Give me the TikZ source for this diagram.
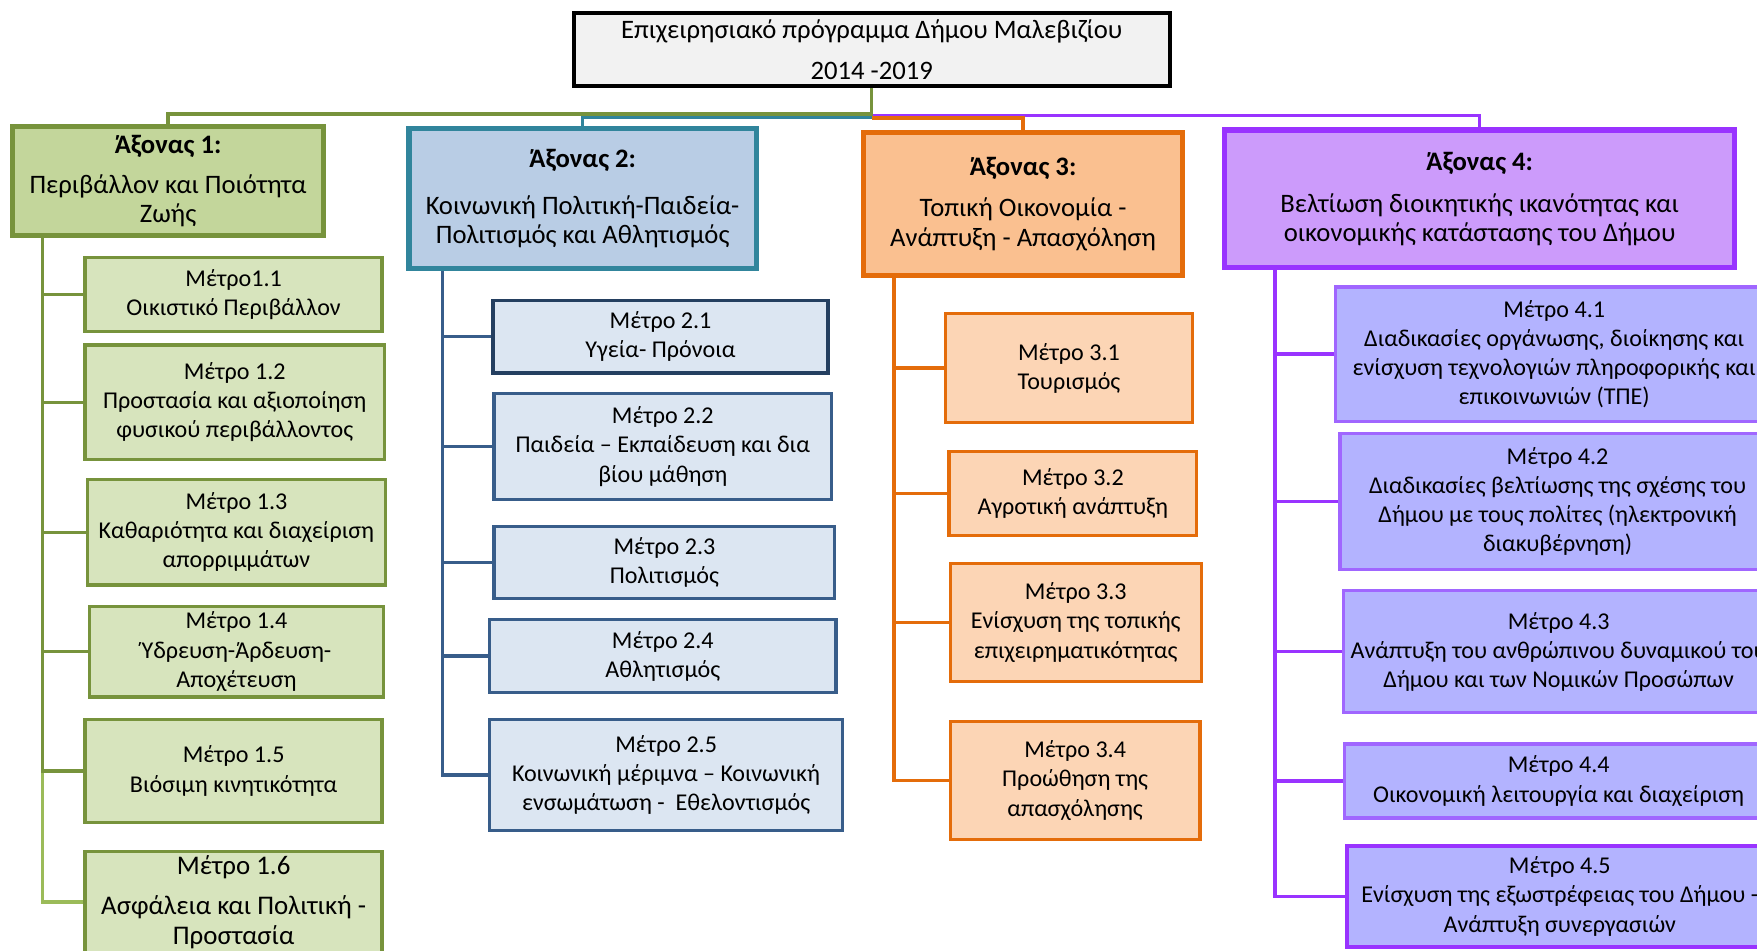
\documentclass[tikz,border=0pt]{standalone}
\usepackage{fontspec}
\setmainfont{Carlito}
\usetikzlibrary{calc}
\definecolor{gA}{HTML}{77933C}
\definecolor{gL}{HTML}{9BBB59}
\definecolor{gF}{HTML}{C3D69B}
\definecolor{gS}{HTML}{D7E4BD}
\definecolor{tA}{HTML}{31859C}
\definecolor{bF}{HTML}{B9CDE5}
\definecolor{bL}{HTML}{385D8A}
\definecolor{bD}{HTML}{243F60}
\definecolor{bS}{HTML}{DCE6F2}
\definecolor{oA}{HTML}{E46C0A}
\definecolor{oF}{HTML}{FAC090}
\definecolor{oS}{HTML}{FCD5B5}
\definecolor{pA}{HTML}{9933FF}
\definecolor{pF}{HTML}{CC9BFB}
\definecolor{pS}{HTML}{B3B3FF}
\definecolor{pB}{HTML}{A066FF}
\definecolor{tF}{HTML}{F2F2F2}
\tikzset{
  bx/.style={draw, line width=3pt, inner sep=0pt, align=center, font=\fontsize{21.5}{26}\selectfont},
  hd/.style={draw, line width=4.5pt, inner sep=0pt, align=center, font=\fontsize{23.8}{26}\selectfont},
  ttl/.style={draw=black, fill=tF, line width=3.5pt, inner sep=0pt, align=center, font=\fontsize{23.8}{26}\selectfont},
  s1/.style={bx, draw=gA, fill=gS},
  s2/.style={bx, draw=bL, fill=bS},
  s3/.style={bx, draw=oA, fill=oS},
  s4/.style={bx, draw=pB, fill=pS},
  l1/.style={draw=gA, line width=3pt},
  l1b/.style={draw=gL, line width=3pt},
  l2/.style={draw=bL, line width=3pt},
  l2t/.style={draw=tA, line width=3pt},
  l3/.style={draw=oA, line width=3pt},
  l4/.style={draw=pA, line width=3pt},
}
\begin{document}
\begin{tikzpicture}[x=1pt,y=-1pt]
\useasboundingbox (0,0) rectangle (1568,848);
\clip (0,0) rectangle (1568,848);
\fill[white] (0,0) rectangle (1568,848);

% title
\node[ttl, minimum width=532pt, minimum height=65pt] (T) at (778,44.5)
  {Επιχειρησιακό πρόγραμμα Δήμου Μαλεβιζίου\\[10pt]2014 -2019};

% axes
\node[hd, draw=gA, fill=gF, minimum width=278pt, minimum height=97pt] (A1) at (150,161.5)
  {{\bfseries Άξονας 1:}\\[10pt]Περιβάλλον και Ποιότητα\\Ζωής};
\node[hd, draw=tA, fill=bF, minimum width=310pt, minimum height=125pt] (A2) at (520,177.5)
  {{\bfseries Άξονας 2:}\\[16pt]Κοινωνική Πολιτική-Παιδεία-\\Πολιτισμός και Αθλητισμός};
\node[hd, draw=oA, fill=oF, minimum width=284pt, minimum height=128pt] (A3) at (913,182)
  {{\bfseries Άξονας 3:}\\[11pt]Τοπική Οικονομία -\\Ανάπτυξη - Απασχόληση};
\node[hd, draw=pA, fill=pF, minimum width=455pt, minimum height=123pt] (A4) at (1320.5,177.5)
  {{\bfseries Άξονας 4:}\\[11pt]Βελτίωση διοικητικής ικανότητας και\\οικονομικής κατάστασης του Δήμου};

% top connectors
\draw[l4] ([yshift=-24.5pt]T.south) -| (A4.north);
\draw[l3] ([yshift=-26.5pt]T.south) -| (A3.north);
\draw[l2t] ([yshift=-26pt]T.south) -| (A2.north);
\draw[l1] (T.south) -- ++(0,23) -| (A1.north);

% column 1
\node[s1, minimum width=265pt, minimum height=66pt] (m11) at (208.5,263) {Μέτρο1.1\\Οικιστικό Περιβάλλον};
\node[s1, minimum width=267pt, minimum height=102pt] (m12) at (209.5,359) {Μέτρο 1.2\\Προστασία και αξιοποίηση\\φυσικού περιβάλλοντος};
\node[s1, minimum width=266pt, minimum height=94pt] (m13) at (211,475) {Μέτρο 1.3\\Καθαριότητα και διαχείριση\\απορριμμάτων};
\node[s1, minimum width=262pt, minimum height=81pt] (m14) at (211,581.5) {Μέτρο 1.4\\Ύδρευση-Άρδευση-\\Αποχέτευση};
\node[s1, minimum width=265pt, minimum height=92pt] (m15) at (208.5,688) {Μέτρο 1.5\\Βιόσιμη κινητικότητα};
\node[s1, minimum width=265pt, minimum height=90pt, font=\fontsize{24}{26}\selectfont] (m16) at (208.5,805) {Μέτρο 1.6\\[10pt]Ασφάλεια και Πολιτική -\\Προστασία};
\coordinate (c1) at ([xshift=29pt]A1.south west);
\draw[l1b] (c1 |- m15.west) |- (m16.west);
\draw[l1] (c1) |- (m15.west);
\foreach \m in {m11,m12,m13,m14} \draw[l1] (\m.west) -- (\m.west -| c1);

% column 2
\node[s2, draw=bD, minimum width=299pt, minimum height=65pt] (m21) at (589.5,300.5) {Μέτρο 2.1\\Υγεία- Πρόνοια};
\node[s2, minimum width=301pt, minimum height=95pt] (m22) at (591.5,398.5) {Μέτρο 2.2\\Παιδεία – Εκπαίδευση και δια\\βίου μάθηση};
\node[s2, minimum width=304pt, minimum height=64pt] (m23) at (593,502) {Μέτρο 2.3\\Πολιτισμός};
\node[s2, minimum width=309pt, minimum height=65pt] (m24) at (591.5,585.5) {Μέτρο 2.4\\Αθλητισμός};
\node[s2, minimum width=315pt, minimum height=99pt] (m25) at (594.5,691.5) {Μέτρο 2.5\\Κοινωνική μέριμνα – Κοινωνική\\ενσωμάτωση -\ \ Εθελοντισμός};
\coordinate (c2) at ([xshift=32pt]A2.south west);
\draw[l2] (c2) |- (m25.west);
\foreach \m in {m21,m22,m23,m24} \draw[l2] (\m.west) -- (\m.west -| c2);

% column 3
\node[s3, minimum width=220pt, minimum height=97pt] (m31) at (954,328.5) {Μέτρο 3.1\\Τουρισμός};
\node[s3, minimum width=221pt, minimum height=75pt] (m32) at (957.5,440.5) {Μέτρο 3.2\\Αγροτική ανάπτυξη};
\node[s3, minimum width=224pt, minimum height=105pt] (m33) at (960,555.5) {Μέτρο 3.3\\Ενίσχυση της τοπικής\\επιχειρηματικότητας};
\node[s3, minimum width=223pt, minimum height=105pt] (m34) at (959.5,696.5) {Μέτρο 3.4\\Προώθηση της\\απασχόλησης};
\coordinate (c3) at ([xshift=29pt]A3.south west);
\draw[l3] (c3) |- (m34.west);
\foreach \m in {m31,m32,m33} \draw[l3] (\m.west) -- (\m.west -| c3);

% column 4
\node[s4, minimum width=390pt, minimum height=120pt] (m41) at (1387,316) {Μέτρο 4.1\\Διαδικασίες οργάνωσης, διοίκησης και\\ενίσχυση τεχνολογιών πληροφορικής και\\επικοινωνιών (ΤΠΕ)};
\node[s4, minimum width=388pt, minimum height=121pt] (m42) at (1390,447.5) {Μέτρο 4.2\\Διαδικασίες βελτίωσης της σχέσης του\\Δήμου με τους πολίτες (ηλεκτρονική\\διακυβέρνηση)};
\node[s4, minimum width=384pt, minimum height=109pt] (m43) at (1391,581.5) {Μέτρο 4.3\\Ανάπτυξη του ανθρώπινου δυναμικού του\\Δήμου και των Νομικών Προσώπων};
\node[s4, minimum width=382pt, minimum height=66pt] (m44) at (1391,697) {Μέτρο 4.4\\Οικονομική λειτουργία και διαχείριση};
\node[s4, draw=pA, minimum width=380pt, minimum height=90pt] (m45) at (1392,800) {Μέτρο 4.5\\Ενίσχυση της εξωστρέφειας του Δήμου -\\Ανάπτυξη συνεργασιών};
\coordinate (c4) at ([xshift=47pt]A4.south west);
\draw[l4] (c4) |- (m45.west);
\foreach \m in {m41,m42,m43,m44} \draw[l4] (\m.west) -- (\m.west -| c4);
\end{tikzpicture}
\end{document}
